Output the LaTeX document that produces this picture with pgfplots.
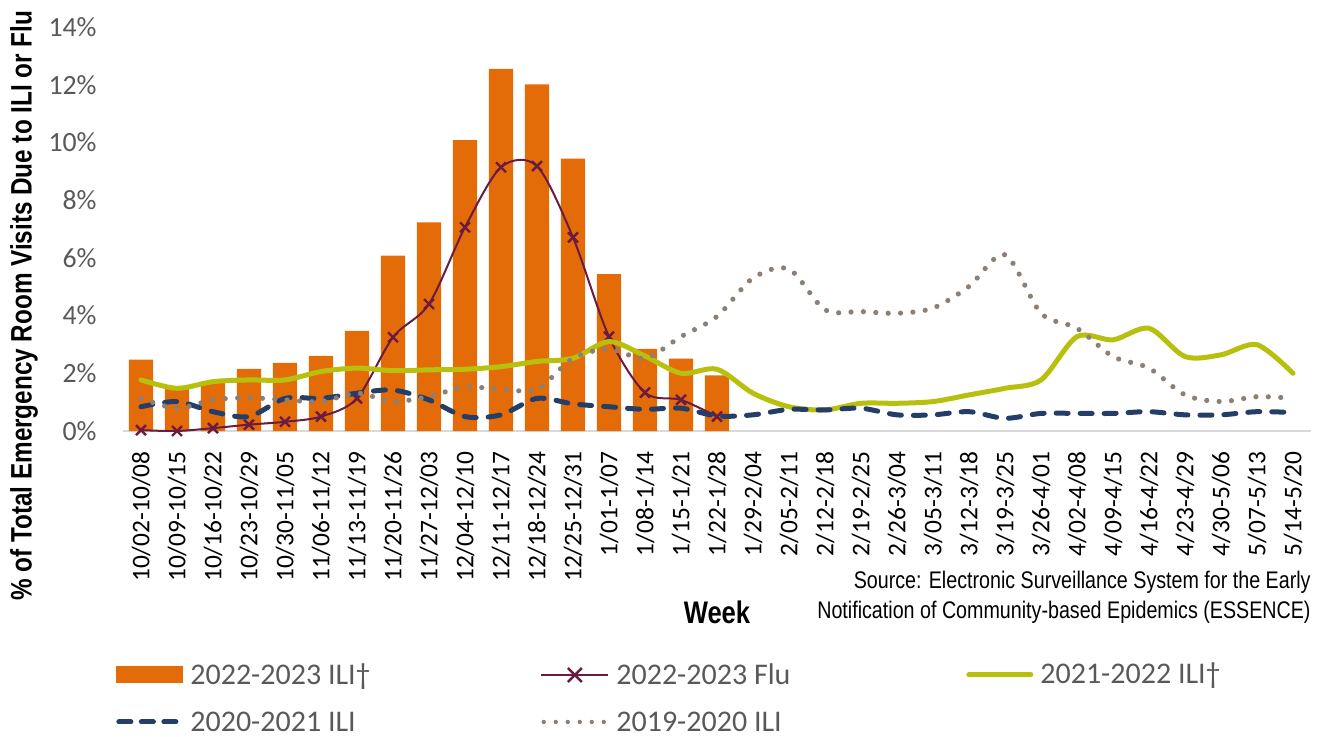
\documentclass[border=0pt]{standalone}
\usepackage{pgfplots}
\pgfplotsset{compat=1.18}
\usepackage{fontspec}
\setmainfont{Carlito}
\newfontfamily\narrow{Liberation Sans}[FakeStretch=0.82]
\definecolor{barorange}{RGB}{227,108,9}
\definecolor{flu}{RGB}{107,26,65}
\definecolor{lime}{RGB}{184,192,14}
\definecolor{navy}{RGB}{36,62,104}
\definecolor{dotgray}{RGB}{140,128,118}
\definecolor{ticgray}{RGB}{89,89,89}
\begin{document}
\begin{tikzpicture}
\begin{axis}[
  at={(61.5pt,152.5pt)}, anchor=south west,
  scale only axis, width=594pt, height=202pt,
  xmin=-0.5, xmax=32.5, ymin=0, ymax=14,
  clip mode=individual,
  axis x line*=bottom, axis y line*=left,
  x axis line style={draw=black!15, line width=1pt},
  y axis line style={draw=none},
  major tick length=0pt,
  xtick={0,...,32},
  xticklabels={10/02-10/08,10/09-10/15,10/16-10/22,10/23-10/29,10/30-11/05,11/06-11/12,11/13-11/19,11/20-11/26,11/27-12/03,12/04-12/10,12/11-12/17,12/18-12/24,12/25-12/31,1/01-1/07,1/08-1/14,1/15-1/21,1/22-1/28,1/29-2/04,2/05-2/11,2/12-2/18,2/19-2/25,2/26-3/04,3/05-3/11,3/12-3/18,3/19-3/25,3/26-4/01,4/02-4/08,4/09-4/15,4/16-4/22,4/23-4/29,4/30-5/06,5/07-5/13,5/14-5/20},
  xticklabel style={rotate=90, anchor=east, inner sep=0pt, font=\fontsize{12.7}{14}\selectfont},
  xticklabel shift=10pt,
  ytick={0,2,...,14},
  yticklabels={0\%,2\%,4\%,6\%,8\%,10\%,12\%,14\%},
  yticklabel style={anchor=east, inner sep=0pt, text=ticgray, font=\fontsize{13.9}{15}\selectfont},
  yticklabel shift=13pt,
  xlabel={Week},
  xlabel style={at={(axis description cs:0.5,-0.45)}, anchor=center, font=\narrow\bfseries\fontsize{15.6}{17}\selectfont},
  ylabel={\% of Total Emergency Room Visits Due to ILI or Flu},
  ylabel style={at={(axis description cs:-0.0833,0.31)}, anchor=center, font=\narrow\bfseries\fontsize{14.8}{16}\selectfont},
  legend columns=3,
  legend style={at={(axis description cs:-0.0059,-0.562)}, anchor=north west, draw=none, fill=none,
    inner sep=0pt, column sep=1.5pt, row sep=7pt,
    font=\fontsize{15}{17}\selectfont, text=ticgray,
    cells={anchor=west}},
]
\addplot[ybar, bar width=0.667, fill=barorange, draw=none,
  legend image code/.code={\fill[barorange] (0pt,-4.25pt) rectangle (33.5pt,4.25pt);}]
  coordinates {(0,2.47) (1,1.5) (2,1.7) (3,2.15) (4,2.36) (5,2.6) (6,3.47) (7,6.08) (8,7.23) (9,10.08) (10,12.55) (11,12.01) (12,9.44) (13,5.44) (14,2.85) (15,2.51) (16,1.93)};
\addlegendentry{\makebox[171.5pt][l]{\rule[-4pt]{0pt}{15pt}2022-2023 ILI\textdagger}}

\addplot[flu, line width=1pt, smooth, mark=x, mark size=3.5pt, mark options={line width=1.2pt, solid},
  legend image code/.code={\draw[flu, line width=1pt] (0pt,0pt)--(33.5pt,0pt);
     \draw[flu, line width=1.2pt] (13.25pt,-3.5pt)--(20.25pt,3.5pt) (13.25pt,3.5pt)--(20.25pt,-3.5pt);}]
  coordinates {(0,0.03) (1,0.0) (2,0.1) (3,0.22) (4,0.32) (5,0.5) (6,1.13) (7,3.25) (8,4.4) (9,7.06) (10,9.14) (11,9.18) (12,6.71) (13,3.27) (14,1.33) (15,1.08) (16,0.5)};
\addlegendentry{\makebox[171.5pt][l]{\rule[-4pt]{0pt}{15pt}2022-2023 Flu}}

\addplot[lime, line width=2.5pt, smooth, line cap=round,
  legend image code/.code={\draw[lime, line width=2.5pt, line cap=round] (1.25pt,0pt)--(32.25pt,0pt);}]
  coordinates {(0,1.77) (1,1.48) (2,1.71) (3,1.77) (4,1.77) (5,2.06) (6,2.18) (7,2.09) (8,2.12) (9,2.14) (10,2.23) (11,2.41) (12,2.52) (13,3.1) (14,2.6) (15,2.0) (16,2.14) (17,1.31) (18,0.84) (19,0.73) (20,0.96) (21,0.96) (22,1.02) (23,1.25) (24,1.48) (25,1.77) (26,3.27) (27,3.16) (28,3.56) (29,2.58) (30,2.64) (31,2.99) (32,2.0)};
\addlegendentry{2021-2022 ILI\textdagger}

\addplot[navy, line width=2.5pt, smooth, line cap=round, dash pattern=on 6pt off 6pt,
  legend image code/.code={\draw[navy, line width=2.5pt, line cap=round, dash pattern=on 6pt off 5.25pt] (1.25pt,0pt)--(32.25pt,0pt);}]
  coordinates {(0,0.84) (1,1.02) (2,0.67) (3,0.5) (4,1.13) (5,1.13) (6,1.31) (7,1.42) (8,1.08) (9,0.5) (10,0.56) (11,1.13) (12,0.94) (13,0.84) (14,0.75) (15,0.79) (16,0.52) (17,0.56) (18,0.75) (19,0.73) (20,0.79) (21,0.56) (22,0.56) (23,0.67) (24,0.44) (25,0.61) (26,0.61) (27,0.61) (28,0.67) (29,0.56) (30,0.56) (31,0.67) (32,0.64)};
\addlegendentry{\makebox[171.5pt][l]{\rule[-4pt]{0pt}{15pt}2020-2021 ILI}}

\addplot[dotgray, line width=2.6pt, smooth, line cap=round, dash pattern=on 0pt off 6.2pt,
  legend image code/.code={\draw[dotgray, line width=2.2pt, line cap=round, dash pattern=on 0pt off 6pt] (1.2pt,0pt)--(32pt,0pt);}]
  coordinates {(0,1.13) (1,0.79) (2,1.08) (3,1.15) (4,1.08) (5,1.02) (6,1.31) (7,1.02) (8,1.2) (9,1.52) (10,1.45) (11,1.45) (12,2.52) (13,2.84) (14,2.52) (15,3.27) (16,3.97) (17,5.3) (18,5.61) (19,4.2) (20,4.14) (21,4.08) (22,4.26) (23,5.01) (24,6.11) (25,4.08) (26,3.56) (27,2.58) (28,2.18) (29,1.25) (30,1.02) (31,1.19) (32,1.13)};
\addlegendentry{\makebox[171.5pt][l]{\rule[-4pt]{0pt}{15pt}2019-2020 ILI}}

\node[anchor=north east, align=right, inner sep=0pt, font=\narrow\fontsize{12}{15}\selectfont]
  at (axis description cs:1.0,-0.345) {Source: Electronic Surveillance System for the Early\\Notification of Community-based Epidemics (ESSENCE)};
\end{axis}
\pgfresetboundingbox
\path[use as bounding box] (0,0) rectangle (659.5pt,368pt);
\end{tikzpicture}
\end{document}
